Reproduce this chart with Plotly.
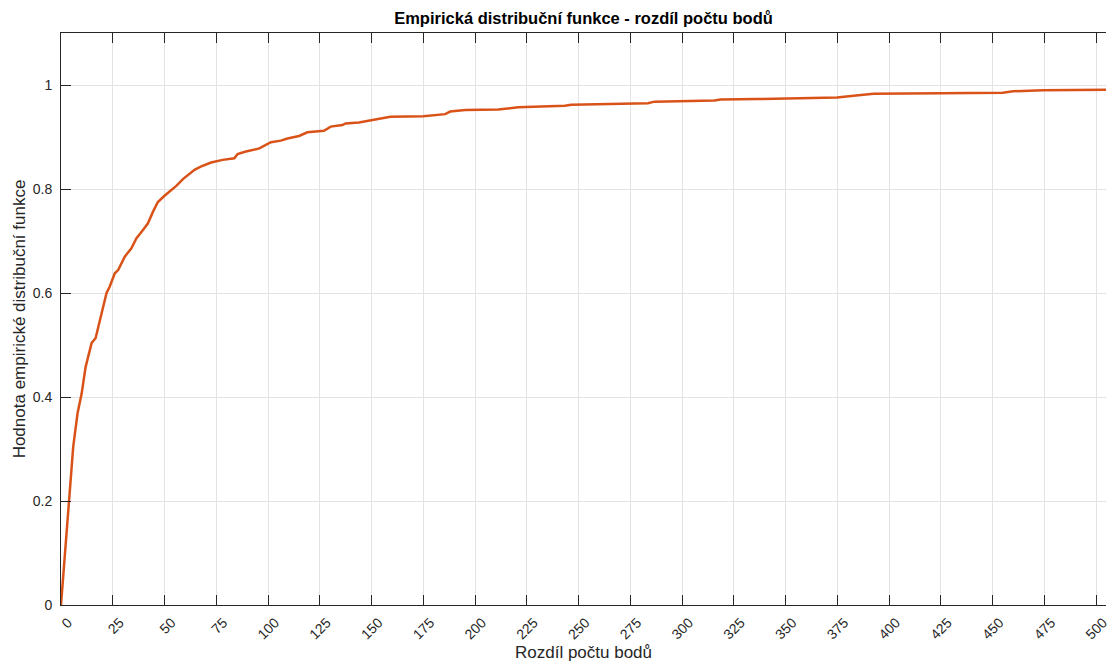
import plotly.graph_objects as go

# Empirical CDF of the score difference (x = difference, y = F(x))
rozdil = [0, 1.9, 3.9, 5.9, 8.0, 10.0, 11.9, 14.8, 16.7, 19.6, 22.0, 23.5, 26.0,
          27.6, 30.8, 34.0, 36.4, 39.6, 42.0, 44.4, 46.8, 50.0, 52.5, 55.7, 58.9,
          64.5, 67.5, 72.5, 78.1, 83.7, 85.3, 89.3, 95.8, 101.4, 106.2, 109.4,
          115.0, 119.0, 127.0, 130.3, 135.9, 137.5, 143.9, 153.5, 159.1, 175.0,
          185.6, 188.0, 195.2, 211.3, 217.7, 220.9, 243.4, 246.5, 283.5, 286.7,
          315.6, 318.7, 336.4, 350.0, 374.9, 382.9, 392.5, 425.0, 455.0, 459.9,
          474.3, 504.8]
hodnota = [0, 0.100, 0.202, 0.304, 0.369, 0.407, 0.458, 0.504, 0.513, 0.561,
           0.600, 0.612, 0.638, 0.644, 0.670, 0.686, 0.705, 0.721, 0.734, 0.756,
           0.775, 0.787, 0.795, 0.806, 0.819, 0.837, 0.843, 0.851, 0.856, 0.859,
           0.867, 0.872, 0.878, 0.890, 0.893, 0.897, 0.902, 0.909, 0.912, 0.920,
           0.923, 0.926, 0.928, 0.935, 0.939, 0.940, 0.944, 0.949, 0.952, 0.953,
           0.955, 0.957, 0.960, 0.962, 0.965, 0.968, 0.970, 0.972, 0.973, 0.974,
           0.976, 0.9795, 0.983, 0.984, 0.985, 0.988, 0.990, 0.991]

x_ticks = list(range(0, 501, 25))
y_ticks = [0, 0.2, 0.4, 0.6, 0.8, 1]
y_tick_text = ["0", "0.2", "0.4", "0.6", "0.8", "1"]

FONT = "Liberation Sans, Arial, Helvetica, sans-serif"
DARK = "#262626"
GRID = "#e3e3e3"

fig = go.Figure()
fig.add_trace(go.Scatter(
    x=rozdil, y=hodnota, mode="lines",
    line=dict(color="#D95319", width=2.5),
    showlegend=False,
))

fig.update_layout(
    width=1110, height=666,
    margin=dict(l=61, r=0, t=33, b=61),
    paper_bgcolor="white", plot_bgcolor="white",
    font=dict(family=FONT, color=DARK, size=14),
    title=dict(
        text="<b>Empirická distribuční funkce - rozdíl počtu bodů</b>",
        x=0.5, xref="paper", xanchor="center",
        y=1 - 18 / 666, yref="container", yanchor="middle",
        font=dict(size=16.5, color="#000000", family=FONT),
    ),
)

fig.update_xaxes(
    range=[0, 504.8],
    tickmode="array", tickvals=x_ticks, ticktext=[str(v) for v in x_ticks],
    tickangle=-45,
    ticks="inside", ticklen=10, tickcolor=DARK, tickwidth=1,
    showline=True, linecolor=DARK, linewidth=1, mirror="allticks",
    showgrid=True, gridcolor=GRID, gridwidth=1,
    zeroline=False,
    ticklabelshift=7, ticklabelstandoff=3, ticklabeloverflow="allow",
    tickfont=dict(size=14, color=DARK),
    title=dict(text="Rozdíl počtu bodů", font=dict(size=17, color=DARK), standoff=4),
)
fig.update_yaxes(
    range=[0, 1.1],
    tickmode="array", tickvals=y_ticks, ticktext=y_tick_text,
    ticks="inside", ticklen=10, tickcolor=DARK, tickwidth=1,
    showline=True, linecolor=DARK, linewidth=1, mirror=False,
    showgrid=True, gridcolor=GRID, gridwidth=1,
    zeroline=False,
    ticklabelstandoff=5,
    tickfont=dict(size=14, color=DARK),
    title=dict(text="Hodnota empirické distribuční funkce",
               font=dict(size=17, color=DARK), standoff=2),
)

fig.write_html("out.html")
